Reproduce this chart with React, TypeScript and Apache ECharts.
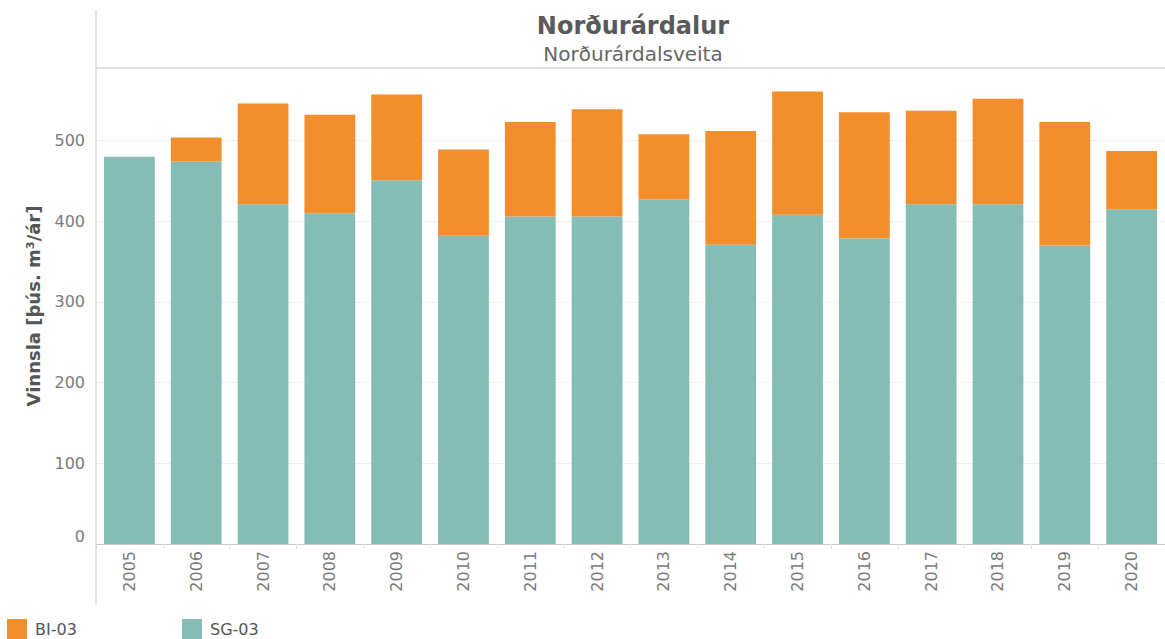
import React, { useEffect, useRef } from "react";
import * as echarts from "echarts";

const years = ["2005","2006","2007","2008","2009","2010","2011","2012","2013","2014","2015","2016","2017","2018","2019","2020"];
const sg03 = [480, 474, 421, 410, 451, 382, 406, 406, 427, 371, 408, 379, 421, 421, 370, 415];
const bi03 = [0, 30, 125, 122, 106, 107, 117, 133, 81, 141, 153, 156, 116, 131, 153, 72];
const yTicks = [0, 100, 200, 300, 400, 500];

const FONT = "DejaVu Sans";

export default function App() {
  const ref = useRef<HTMLDivElement>(null);
  useEffect(() => {
    if (!ref.current) return;
    const chart = echarts.init(ref.current, null, { renderer: "svg" });
    chart.setOption({
      animation: false,
      backgroundColor: "#ffffff",
      title: [
        {
          text: "Norðurárdalur",
          left: 633,
          top: 14,
          padding: 0,
          textAlign: "center",
          textStyle: { fontFamily: FONT, fontSize: 24, fontWeight: "bold", color: "#5a5a5a" },
        },
        {
          text: "Norðurárdalsveita",
          left: 633,
          top: 44,
          padding: 0,
          textAlign: "center",
          textStyle: { fontFamily: FONT, fontSize: 20, fontWeight: "normal", color: "#666666" },
        },
      ],
      legend: [
        {
          data: ["BI-03"],
          left: 7,
          top: 619,
          padding: 0,
          itemWidth: 20,
          itemHeight: 20,
          icon: "rect",
          selectedMode: false,
          textStyle: { fontFamily: FONT, fontSize: 16, color: "#555555", padding: [0, 0, 0, 3] },
        },
        {
          data: ["SG-03"],
          left: 182,
          top: 619,
          padding: 0,
          itemWidth: 20,
          itemHeight: 20,
          icon: "rect",
          selectedMode: false,
          textStyle: { fontFamily: FONT, fontSize: 16, color: "#555555", padding: [0, 0, 0, 3] },
        },
      ],
      grid: { left: 96, right: -5, top: 68, bottom: 95, containLabel: false },
      xAxis: {
        type: "category",
        data: years,
        axisLine: { show: true, lineStyle: { color: "#cccccc", width: 1 } },
        axisTick: { show: true, length: 5, lineStyle: { color: "#e2e2e2" } },
        axisLabel: {
          rotate: 90,
          margin: 7,
          fontFamily: FONT,
          fontSize: 16,
          color: "#7a7a7a",
        },
      },
      yAxis: {
        type: "value",
        min: 0,
        max: 590,
        interval: 100,
        name: "Vinnsla [þús. m³/ár]",
        nameLocation: "middle",
        nameGap: 54,
        nameTextStyle: { fontFamily: FONT, fontSize: 18, fontWeight: "bold", color: "#555555" },
        axisLine: { show: false },
        axisTick: { show: false },
        splitLine: { show: true, lineStyle: { color: "#f0f0f0", width: 1 } },
        axisLabel: {
          margin: 11,
          fontFamily: FONT,
          fontSize: 16,
          color: "#7a7a7a",
          verticalAlignMinLabel: "bottom",
          formatter: (v: number) => (yTicks.indexOf(v) >= 0 ? String(v) : ""),
        },
      },
      series: [
        {
          name: "SG-03",
          type: "bar",
          stack: "total",
          data: sg03,
          barCategoryGap: "24%",
          itemStyle: { color: "#86BCB6" },
        },
        {
          name: "BI-03",
          type: "bar",
          stack: "total",
          data: bi03,
          barCategoryGap: "24%",
          itemStyle: { color: "#F28E2B" },
        },
      ],
      graphic: [
        {
          type: "line",
          shape: { x1: 96, y1: 10, x2: 96, y2: 604 },
          style: { stroke: "#cccccc", lineWidth: 1 },
          z: 10,
        },
        {
          type: "line",
          shape: { x1: 96, y1: 68, x2: 1165, y2: 68 },
          style: { stroke: "#c8c8c8", lineWidth: 1 },
          z: 10,
        },
      ],
    });
    return () => chart.dispose();
  }, []);
  return (
    <div
      ref={ref}
      style={{ position: "fixed", left: 0, top: 0, width: 1165, height: 639 }}
    />
  );
}
